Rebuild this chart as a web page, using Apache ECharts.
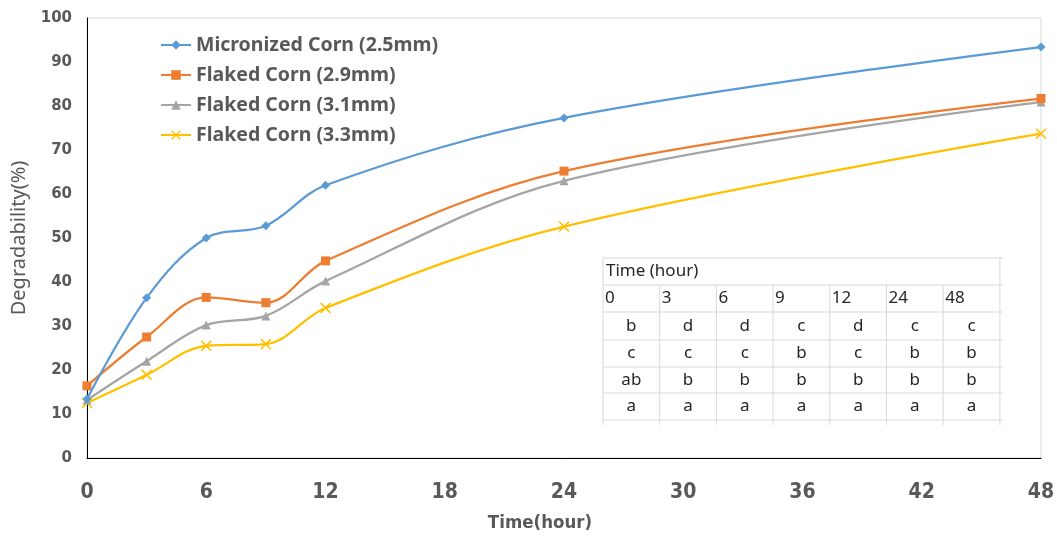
<!DOCTYPE html>
<html><head><meta charset="utf-8">
<script src="https://cdn.jsdelivr.net/npm/echarts@6/dist/echarts.min.js"></script>
<style>html,body{margin:0;padding:0;background:#fff}#c{width:1057px;height:536px}</style>
</head><body><div id="c"></div>
<script>
const hours = [0, 3, 6, 9, 12, 24, 48];
const seriesNames = ['Micronized Corn (2.5mm)', 'Flaked Corn (2.9mm)', 'Flaked Corn (3.1mm)', 'Flaked Corn (3.3mm)'];
const micronized25 = [13.4, 36.4, 50.0, 52.8, 62.0, 77.3, 93.4];
const flaked29 = [16.4, 27.5, 36.5, 35.3, 44.8, 65.2, 81.7];
const flaked31 = [13.2, 22.0, 30.2, 32.3, 40.2, 63.0, 80.9];
const flaked33 = [12.5, 18.9, 25.5, 25.9, 34.1, 52.6, 73.7];
const yTicks = [0, 10, 20, 30, 40, 50, 60, 70, 80, 90, 100];
const xTicks = [0, 6, 12, 18, 24, 30, 36, 42, 48];
const tableTitle = 'Time (hour)';
const tableHours = ['0', '3', '6', '9', '12', '24', '48'];
const tableRows = [
  ['b', 'd', 'd', 'c', 'd', 'c', 'c'],
  ['c', 'c', 'c', 'b', 'c', 'b', 'b'],
  ['ab', 'b', 'b', 'b', 'b', 'b', 'b'],
  ['a', 'a', 'a', 'a', 'a', 'a', 'a']
];

const colors = ['#5b9bd5', '#ed7d31', '#a5a5a5', '#ffc000'];
const symbols = ['diamond', 'rect', 'triangle',
  'path://M0,1 L1,0 L5,4 L9,0 L10,1 L6,5 L10,9 L9,10 L5,6 L1,10 L0,9 L4,5 Z'];
const symSizes = [9, 9, 9, 11];
const allData = [micronized25, flaked29, flaked31, flaked33];

// table graphic
const tx = 603, tcw = 56.7;
const rowY = [258, 285, 312, 340, 367, 393, 420];
const tBottom = 425;
const tRight = tx + tcw * 7;
const lineStyle = { stroke: '#d9d9d9', lineWidth: 1 };
const gfx = [];
gfx.push({ type: 'rect', shape: { x: tx, y: rowY[0], width: tRight - tx, height: tBottom - rowY[0] }, style: { fill: '#fff' }, z: 10 });
rowY.forEach(y => gfx.push({ type: 'line', shape: { x1: tx, y1: y, x2: tRight + 3, y2: y }, style: lineStyle, z: 11 }));
gfx.push({ type: 'line', shape: { x1: tx, y1: rowY[0], x2: tx, y2: tBottom }, style: lineStyle, z: 11 });
gfx.push({ type: 'line', shape: { x1: tRight, y1: rowY[0], x2: tRight, y2: tBottom }, style: lineStyle, z: 11 });
for (let i = 1; i < 7; i++) {
  gfx.push({ type: 'line', shape: { x1: tx + tcw * i, y1: rowY[1], x2: tx + tcw * i, y2: tBottom }, style: lineStyle, z: 11 });
}
const tFont = { fontFamily: 'Noto Sans', fontSize: 17, fill: '#262626' };
gfx.push({ type: 'text', x: tx + 3, y: (rowY[0] + rowY[1]) / 2, style: Object.assign({ text: tableTitle, verticalAlign: 'middle', align: 'left' }, tFont), z: 12 });
tableHours.forEach((h, i) => gfx.push({ type: 'text', x: tx + tcw * i + 2, y: (rowY[1] + rowY[2]) / 2, style: Object.assign({ text: h, verticalAlign: 'middle', align: 'left' }, tFont), z: 12 }));
tableRows.forEach((row, r) => row.forEach((v, i) => gfx.push({ type: 'text', x: tx + tcw * i + tcw / 2, y: (rowY[r + 2] + rowY[r + 3]) / 2, style: Object.assign({ text: v, verticalAlign: 'middle', align: 'center' }, tFont), z: 12 })));

const chart = echarts.init(document.getElementById('c'));
chart.setOption({
  animation: false,
  backgroundColor: '#fff',
  grid: { left: 87, right: 16, top: 18, bottom: 78, show: true, borderColor: '#d9d9d9', borderWidth: 1, containLabel: false, outerBoundsMode: 'none' },
  legend: {
    orient: 'vertical', left: 160, top: 35, padding: 0, itemWidth: 30, itemHeight: 12, itemGap: 10,
    data: seriesNames,
    textStyle: { fontFamily: 'Noto Sans', fontWeight: 'bold', fontSize: 19.5, color: '#595959' }
  },
  xAxis: {
    type: 'value', min: xTicks[0], max: xTicks[xTicks.length - 1], interval: 6,
    name: 'Time(hour)', nameLocation: 'middle', nameGap: 56,
    nameTextStyle: { fontFamily: 'DejaVu Sans Condensed', fontWeight: 'bold', fontSize: 18.5, color: '#595959', padding: [0, 48, 0, 0] },
    axisLine: { lineStyle: { color: '#000', width: 1 } },
    axisTick: { show: false },
    splitLine: { show: false },
    axisLabel: { margin: 24, fontFamily: 'DejaVu Sans Condensed', fontWeight: 'bold', fontSize: 21, color: '#595959' }
  },
  yAxis: {
    type: 'value', min: yTicks[0], max: yTicks[yTicks.length - 1], interval: 10,
    name: 'Degradability(%)', nameLocation: 'middle', nameGap: 54,
    nameTextStyle: { fontFamily: 'Noto Sans', fontSize: 20, color: '#595959' },
    axisLine: { show: true, lineStyle: { color: '#000', width: 1 } },
    axisTick: { show: false },
    splitLine: { show: false },
    axisLabel: { margin: 15, fontFamily: 'DejaVu Sans', fontWeight: 'bold', fontSize: 15, color: '#595959' }
  },
  series: allData.map((d, i) => ({
    name: seriesNames[i], type: 'line', smooth: 0.35,
    data: d.map((v, j) => [hours[j], v]),
    symbol: symbols[i], symbolSize: symSizes[i], showSymbol: true,
    lineStyle: { color: colors[i], width: 2.25 },
    itemStyle: { color: colors[i] },
    z: 5 - i
  })),
  graphic: gfx
});
</script></body></html>
